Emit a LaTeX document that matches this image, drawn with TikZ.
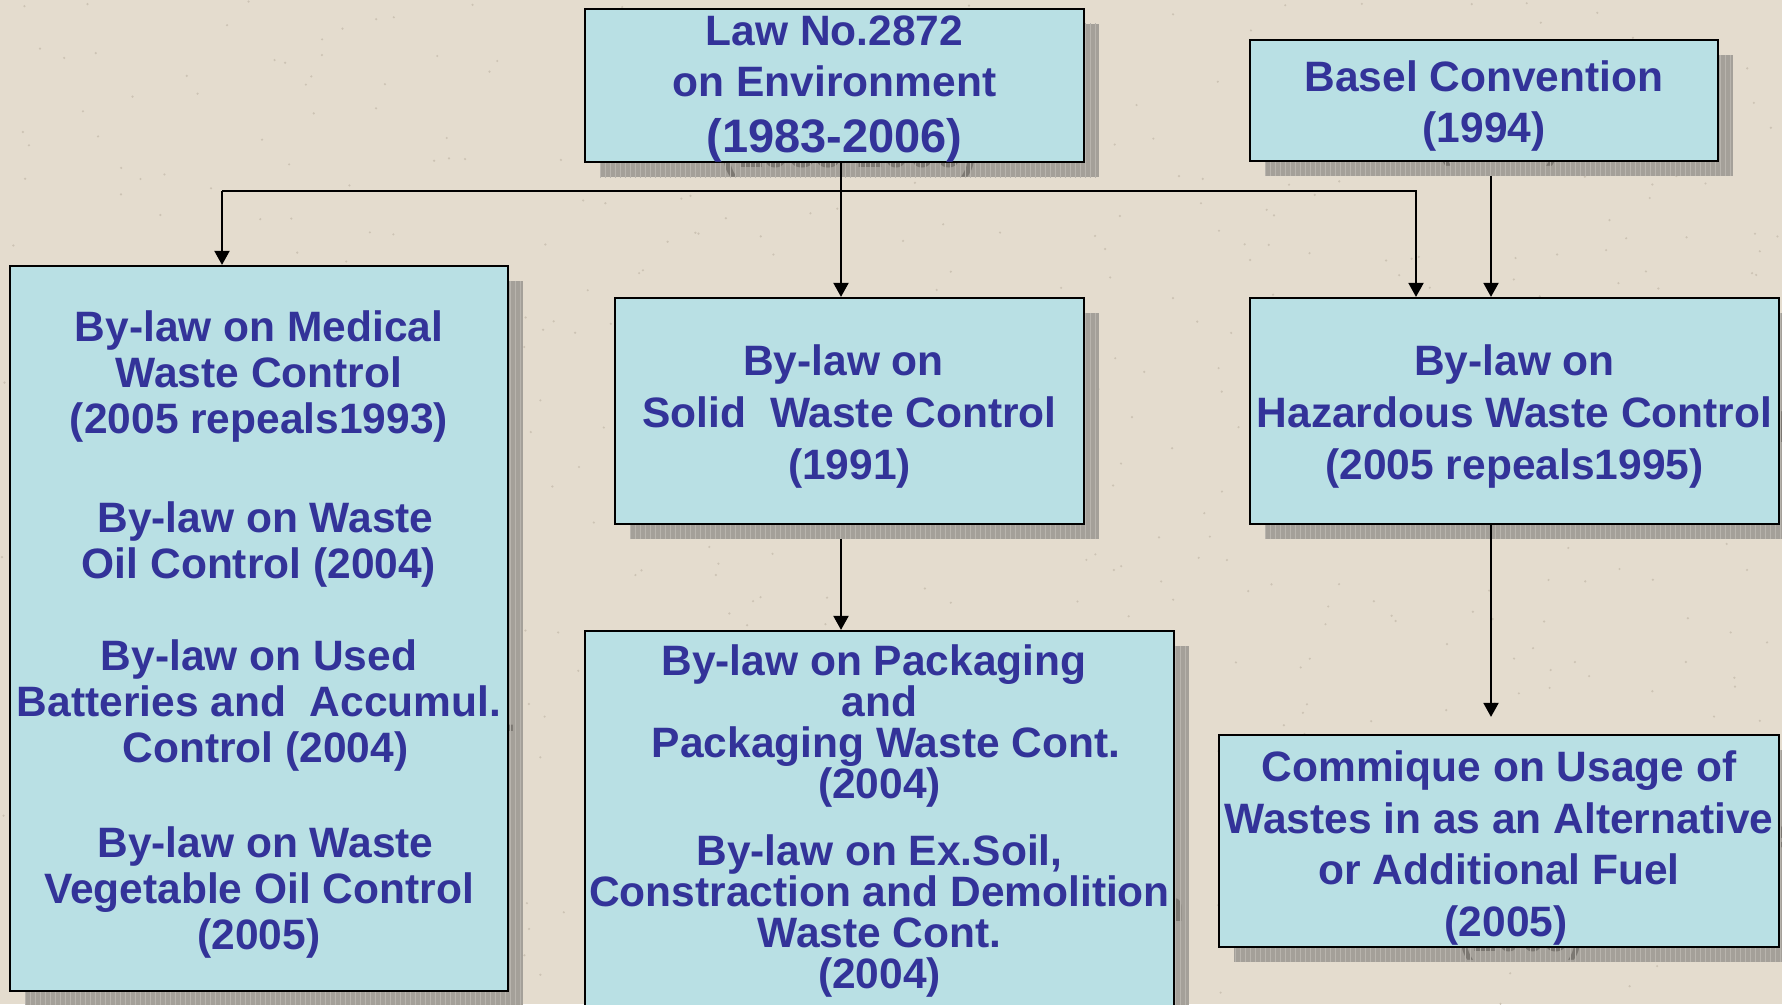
\documentclass[tikz,border=0pt]{standalone}
\usepackage{fontspec}
\setmainfont{Liberation Sans}
\usetikzlibrary{arrows.meta}

\definecolor{paper}{RGB}{228,220,206}
\definecolor{speck}{RGB}{204,195,180}
\definecolor{boxcyan}{RGB}{185,224,228}
\definecolor{lawblue}{RGB}{51,51,153}
\definecolor{shadowgrey}{RGB}{164,160,153}
\definecolor{gridgrey}{RGB}{184,180,173}
\definecolor{ghostgrey}{RGB}{124,120,114}

\newcommand{\boxfont}[1]{\fontsize{42.5}{#1}\selectfont\bfseries}
\newcommand{\toproom}[1]{\rule{0pt}{#1pt}}

% box texts (used for the box and for its shadow)
\newcommand{\lawtext}{\toproom{37}Law No.2872\\on Environment\\[5pt]{\fontsize{47}{51}\selectfont(1983-2006)}}
\newcommand{\baseltext}{\toproom{42.5}Basel Convention\\(1994)}
\newcommand{\medicaltext}{\toproom{42.5}By-law on Medical\\Waste Control\\(2005 repeals1993)\\[53pt]
  \hspace*{13pt}By-law on Waste\\Oil Control (2004)\\[46pt]
  By-law on Used\\Batteries and\ \ Accumul.\\\hspace*{13pt}Control (2004)\\[49pt]
  \hspace*{13pt}By-law on Waste\\Vegetable Oil Control\\(2005)}
\newcommand{\solidtext}{\toproom{42.5}By-law on\hspace*{12pt}\\Solid\ \ Waste Control\\(1991)}
\newcommand{\hazardtext}{\toproom{42.5}By-law on\\Hazardous Waste Control\\(2005 repeals1995)}
\newcommand{\packtext}{By-law on Packaging\hspace*{11pt}\\and\\\hspace*{13pt}Packaging Waste Cont.\\(2004)\\[26pt]
  By-law on Ex.Soil,\\Constraction and Demolition\\Waste Cont.\\(2004)}
\newcommand{\commiquetext}{\toproom{45}Commique on Usage of\\Wastes in as an Alternative\\or Additional Fuel\\\hspace*{14pt}(2005)}

\begin{document}
\begin{tikzpicture}[x=1pt, y=-1pt,
    box/.style={draw=black, line width=2.2pt, fill=boxcyan, text=lawblue, align=center, inner sep=0pt},
    shade/.style={fill=shadowgrey, text=ghostgrey, align=center, inner sep=0pt},
    shadowgrid/.style={draw=gridgrey, line width=0.5pt},
    link/.style={line width=2pt, -{Triangle[length=14pt, width=15pt]}},
    lawsize/.style={minimum width=499pt, minimum height=151pt, font=\boxfont{51}},
    baselsize/.style={minimum width=468pt, minimum height=121pt, font=\boxfont{51}},
    medicalsize/.style={minimum width=498pt, minimum height=725pt, font=\boxfont{46}},
    solidsize/.style={minimum width=469pt, minimum height=226pt, font=\boxfont{52}},
    hazardsize/.style={minimum width=529pt, minimum height=226pt, font=\boxfont{52}},
    packsize/.style={minimum width=589pt, minimum height=380pt, font=\boxfont{41}},
    commiquesize/.style={minimum width=560pt, minimum height=212pt, font=\boxfont{51.5}}]

    % Paper background
    \fill[paper] (0,0) rectangle (1782,1004);
    \useasboundingbox (0,0) rectangle (1782,1004);
    \pgfmathsetseed{42}
    \foreach \i in {1,...,700}
        \fill[speck] (rnd*1782, rnd*1004) circle (1.2);

    % Law No.2872
    \node[shade, lawsize] (lawSh) at (849.5,100.5) {\lawtext};
    \draw[shadowgrid, step=5] (lawSh.south west) grid (lawSh.north east);
    \node[box, lawsize] (law) at (834.5,85.5) {\lawtext};

    % Basel Convention
    \node[shade, baselsize] (baselSh) at (1499,115.5) {\baseltext};
    \draw[shadowgrid, step=5] (baselSh.south west) grid (baselSh.north east);
    \node[box, baselsize] (basel) at (1484,100.5) {\baseltext};

    % Left column of by-laws
    \node[shade, medicalsize] (medicalSh) at (274,643.5) {\medicaltext};
    \draw[shadowgrid, step=5] (medicalSh.south west) grid (medicalSh.north east);
    \node[box, medicalsize] (medical) at (259,628.5) {\medicaltext};

    % Solid waste
    \node[shade, solidsize] (solidSh) at (864.5,426) {\solidtext};
    \draw[shadowgrid, step=5] (solidSh.south west) grid (solidSh.north east);
    \node[box, solidsize] (solid) at (849.5,411) {\solidtext};

    % Hazardous waste
    \node[shade, hazardsize] (hazardSh) at (1529.5,426) {\hazardtext};
    \draw[shadowgrid, step=5] (hazardSh.south west) grid (hazardSh.north east);
    \node[box, hazardsize] (hazard) at (1514.5,411) {\hazardtext};

    % Packaging and soil
    \node[shade, packsize] (packSh) at (894.5,836) {\packtext};
    \draw[shadowgrid, step=5] (packSh.south west) grid (packSh.north east);
    \node[box, packsize] (pack) at (879.5,821) {\packtext};

    % Alternative fuel
    \node[shade, commiquesize] (commiqueSh) at (1514,856) {\commiquetext};
    \draw[shadowgrid, step=5] (commiqueSh.south west) grid (commiqueSh.north east);
    \node[box, commiquesize] (commique) at (1499,841) {\commiquetext};

    % Connectors
    \coordinate (jL) at (222,191);
    \coordinate (jR) at (1416,191);
    \coordinate (mx) at (841,0);
    \coordinate (rx) at (1491,0);

    \draw[link] (law.south -| mx) -- (solid.north -| mx);
    \draw[link] (jL) -- (medical.north -| jL);
    \draw[link] (jL) -| (hazard.north -| jR);
    \draw[link] (baselSh.south -| rx) -- (hazard.north -| rx);
    \draw[link] (solidSh.south -| mx) -- (pack.north -| mx);
    \draw[link, shorten >=17pt] (hazard.south -| rx) -- (commique.north -| rx);

\end{tikzpicture}
\end{document}
